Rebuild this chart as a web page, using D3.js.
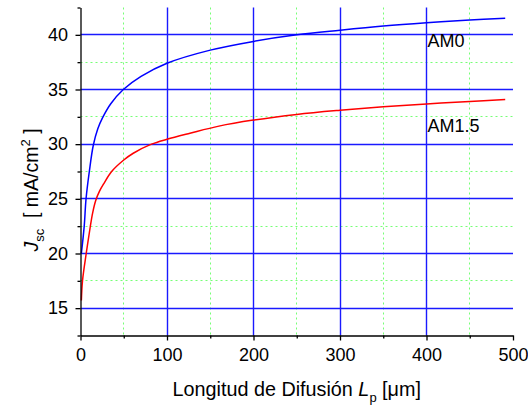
<!DOCTYPE html>
<html><head><meta charset="utf-8">
<script src="https://cdn.jsdelivr.net/npm/d3@7"></script>
<style>body{margin:0;background:#fff}svg{display:block}text{font-family:"Liberation Sans",Arial,sans-serif}</style>
</head><body><svg id="c" width="528" height="405"></svg>
<script>
const am0X = [1, 4.3, 6.4, 10.2, 14.8, 20, 25.4, 35, 49.5, 70, 100, 150, 200, 250, 300, 350, 400, 450, 491];
const am0Y = [20, 22.5, 25, 27.5, 29.9, 31.4, 32.4, 33.7, 35, 36.2, 37.4, 38.6, 39.4, 40, 40.42, 40.8, 41.1, 41.35, 41.52];
const am15X = [1, 2.3, 6.6, 11.2, 14, 17.6, 22, 27, 36, 50, 61, 82, 100, 126.6, 160, 200, 250, 300, 350, 400, 450, 491];
const am15Y = [15.7, 17.5, 20, 22.4, 23.7, 24.85, 25.7, 26.4, 27.5, 28.55, 29.17, 30, 30.45, 31.0, 31.65, 32.2, 32.72, 33.1, 33.42, 33.68, 33.9, 34.08];
const xMajor = [0, 100, 200, 300, 400, 500];
const xMinor = [50, 150, 250, 350, 450];
const yMajor = [15, 20, 25, 30, 35, 40];
const yMinor = [12.5, 17.5, 22.5, 27.5, 32.5, 37.5, 42.5];
const seriesLabels = ["AM0", "AM1.5"];

const svg = d3.select("#c");
const x = d3.scaleLinear().domain([0, 500]).range([80.5, 513]);
const y = d3.scaleLinear().domain([12.5, 42.5]).range([335.5, 7.5]);
const sx = d => Math.round(x(d) - 0.5) + 0.5;
const sy = d => Math.round(y(d) - 0.5) + 0.5;

// minor grid
const g = svg.append("g");
g.selectAll(".mvx").data(xMinor).join("line")
  .attr("x1", sx).attr("x2", sx).attr("y1", y(42.5)).attr("y2", y(12.5))
  .attr("stroke", "#55ff55").attr("stroke-width", 1).attr("stroke-dasharray", "2,3").attr("opacity", 0.8);
g.selectAll(".mhy").data(yMinor.filter(d => d > 12.5 && d < 42.5)).join("line")
  .attr("x1", x(0)).attr("x2", x(500)).attr("y1", sy).attr("y2", sy)
  .attr("stroke", "#55ff55").attr("stroke-width", 1).attr("stroke-dasharray", "2,3").attr("opacity", 0.8);
// major grid
g.selectAll(".Mvx").data(xMajor.filter(d => d > 0 && d < 500)).join("line")
  .attr("x1", sx).attr("x2", sx).attr("y1", y(42.5)).attr("y2", y(12.5))
  .attr("stroke", "#1a1aff").attr("stroke-width", 1.4);
g.selectAll(".Mhy").data(yMajor).join("line")
  .attr("x1", x(0)).attr("x2", x(500)).attr("y1", sy).attr("y2", sy)
  .attr("stroke", "#1a1aff").attr("stroke-width", 1.4);

// curves
const line = d3.line().x(d => x(d[0])).y(d => y(d[1])).curve(d3.curveCatmullRom.alpha(0.5));
svg.append("path").datum(am0X.map((v, i) => [v, am0Y[i]]))
  .attr("d", line).attr("fill", "none").attr("stroke", "#0000ff").attr("stroke-width", 1.5);
svg.append("path").datum(am15X.map((v, i) => [v, am15Y[i]]))
  .attr("d", line).attr("fill", "none").attr("stroke", "#ff0000").attr("stroke-width", 1.5);

// axes
svg.append("g").attr("transform", `translate(0,${y(12.5)})`)
  .call(d3.axisBottom(x).tickValues(xMajor).tickFormat(d3.format("d")).tickSize(5).tickPadding(8).tickSizeOuter(0));
svg.append("g").attr("transform", `translate(0,${y(12.5)})`)
  .call(d3.axisBottom(x).tickValues(xMinor).tickFormat("").tickSize(3).tickSizeOuter(0))
  .call(s => s.select(".domain").remove());
svg.append("g").attr("transform", `translate(${x(0)},0)`)
  .call(d3.axisLeft(y).tickValues(yMajor).tickFormat(d3.format("d")).tickSize(5).tickPadding(7.5).tickSizeOuter(0));
svg.append("g").attr("transform", `translate(${x(0)},0)`)
  .call(d3.axisLeft(y).tickValues(yMinor).tickFormat("").tickSize(3).tickSizeOuter(0))
  .call(s => s.select(".domain").remove());
svg.selectAll(".domain, .tick line").attr("stroke", "#000").attr("stroke-width", 1.3);
svg.selectAll(".tick text").attr("font-size", 18).attr("fill", "#000").attr("font-family", "Liberation Sans, Arial, sans-serif");

// series labels
svg.append("text").attr("x", x(400) + 1).attr("y", 47).attr("font-size", 18).text(seriesLabels[0]);
svg.append("text").attr("x", x(400) + 1).attr("y", 131.5).attr("font-size", 18).text(seriesLabels[1]);

// axis titles
const xt = svg.append("text").attr("x", (x(0) + x(500)) / 2).attr("y", 396)
  .attr("text-anchor", "middle").attr("font-size", 19.8);
xt.append("tspan").text("Longitud de Difusión ");
xt.append("tspan").attr("font-style", "italic").text("L");
xt.append("tspan").attr("font-size", 13).attr("dy", 6).text("p");
xt.append("tspan").attr("dy", -6).text(" [μm]");

const yt = svg.append("text").attr("transform", "translate(38,190) rotate(-90)")
  .attr("text-anchor", "middle").attr("font-size", 19.5);
yt.append("tspan").attr("font-style", "italic").text("J");
yt.append("tspan").attr("font-size", 13).attr("dy", 6).text("sc");
yt.append("tspan").attr("dy", -6).attr("xml:space", "preserve").text("  [ mA/cm");
yt.append("tspan").attr("font-size", 13).attr("dy", -8).text("2");
yt.append("tspan").attr("dy", 8).text(" ]");
</script></body></html>
